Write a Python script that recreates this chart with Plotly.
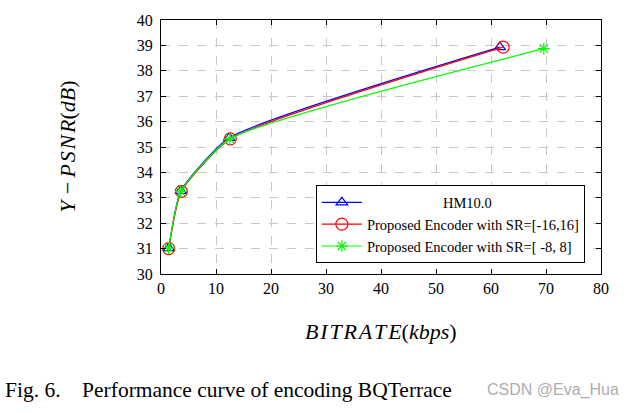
import plotly.graph_objects as go

hm_x = [1.4, 3.6, 12.4, 61.6]
hm_y = [31.02, 33.27, 35.36, 38.93]
r16_x = [1.4, 3.7, 12.6, 62.2]
r16_y = [31.0, 33.25, 35.32, 38.93]
r8_x = [1.4, 3.6, 12.5, 69.6]
r8_y = [31.02, 33.25, 35.32, 38.87]

names = ["&nbsp;" * 21 + "HM10.0", "Proposed Encoder with SR=[-16,16]", "Proposed Encoder with SR=[ -8, 8]"]
colors = ["#0000ff", "#ff0000", "#00ff00"]
symbols = ["triangle-up-open", "circle-open", "asterisk-open"]

serif = "Liberation Serif, Times New Roman, serif"
fig = go.Figure()
for xs, ys, n, c, s, sz in zip([hm_x, r16_x, r8_x], [hm_y, r16_y, r8_y], names, colors, symbols,
                               [10, 12, 10]):
    fig.add_trace(go.Scatter(
        x=xs, y=ys, name=n, mode="lines+markers",
        line=dict(color=c, width=1.2, shape="spline", smoothing=0.5),
        marker=dict(symbol=s, size=sz, color=c, line=dict(color=c, width=1.2)),
    ))

axis_common = dict(
    showline=True, linecolor="black", linewidth=1, mirror="allticks",
    ticks="inside", ticklen=5, tickcolor="black",
    showgrid=True, gridcolor="#c8c8c8", griddash="dash", gridwidth=1,
    zeroline=False, tickfont=dict(family=serif, size=16, color="black"),
)
fig.update_xaxes(range=[0, 80], dtick=10, **axis_common)
fig.update_yaxes(range=[30, 40], dtick=1, ticklabelstandoff=4, **axis_common)

hs = "\u200a"
ytitle = "<i>Y</i>" + hs + "\u2009−\u2009" + "<i>" + hs.join("PSNR") + "</i>(<i>dB</i>)"
xtitle = "<i>" + hs.join("BITRATE") + "</i>(<i>kbps</i>)"

fig.update_layout(
    width=631, height=413,
    margin=dict(l=161, r=30, t=16, b=139),
    plot_bgcolor="white", paper_bgcolor="white",
    font=dict(family=serif, color="black"),
    legend=dict(x=0.352, y=0.349, xanchor="left", yanchor="top",
                bordercolor="black", borderwidth=1, bgcolor="white",
                font=dict(family=serif, size=14.5, color="black"),
                tracegroupgap=0, itemwidth=40),
    annotations=[
        dict(text=ytitle, xref="paper", yref="paper",
             x=-0.214, y=0.5, textangle=-90, showarrow=False, xanchor="center",
             font=dict(family=serif, size=22, color="black")),
        dict(text=xtitle, xref="paper", yref="paper",
             x=0.5, y=-0.225, showarrow=False, yanchor="middle",
             font=dict(family=serif, size=22, color="black")),
        dict(text="Fig. 6." + "&nbsp;" * 4 + "Performance curve of encoding BQTerrace",
             xref="paper", yref="paper", x=-0.359, y=-0.457, xanchor="left", yanchor="middle",
             showarrow=False, font=dict(family=serif, size=21.5, color="black")),
        dict(text="CSDN @Eva_Hua", xref="paper", yref="paper", x=1.045, y=-0.457,
             xanchor="right", yanchor="middle", showarrow=False,
             font=dict(family="Liberation Sans", size=16, color="rgba(150,150,150,0.8)")),
    ],
)
fig.write_html("out.html")
